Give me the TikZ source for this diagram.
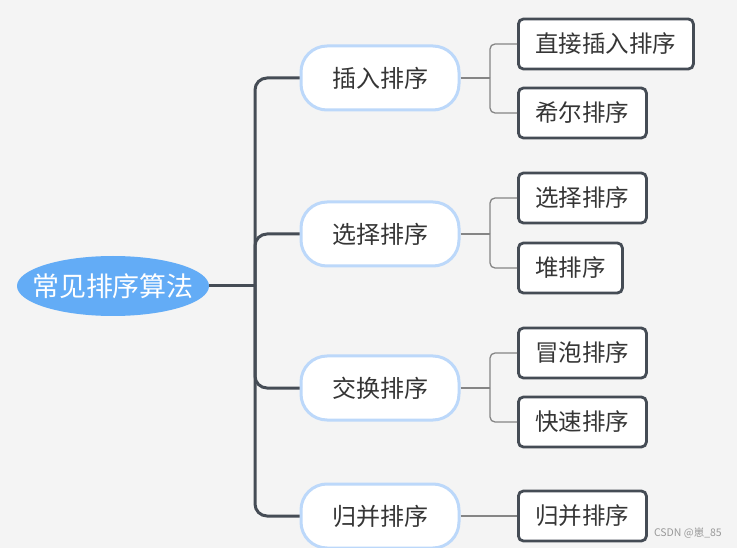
\documentclass[tikz,border=0pt]{standalone}
\usepackage{fontspec}
\newfontfamily\cjk{Noto Sans CJK SC}
\definecolor{bgc}{HTML}{F4F4F4}
\definecolor{rootc}{HTML}{63ACF6}
\definecolor{midb}{HTML}{BCD8FA}
\definecolor{dark}{HTML}{454C55}
\definecolor{thin}{HTML}{858585}
\definecolor{txt}{HTML}{353535}
\tikzset{
  rootnode/.style={rectangle, minimum width=192pt, minimum height=60pt, inner sep=0pt, text=white, font=\cjk\fontsize{27}{31}\selectfont},
  midnode/.style={rectangle, rounded corners=26pt, draw=midb, line width=3pt, fill=white, minimum width=158pt, minimum height=64pt, inner sep=0pt, text=txt, font=\cjk\fontsize{24}{28}\selectfont},
  leafnode/.style={rectangle, rounded corners=5pt, draw=dark, line width=2.8pt, fill=white, minimum height=50pt, inner sep=0pt, anchor=west, text=txt, font=\cjk\fontsize{23.5}{27}\selectfont},
  trunk/.style={draw=dark, line width=3pt, rounded corners=12pt},
  twig/.style={draw=thin, line width=1.3pt, rounded corners=5pt},
}
\begin{document}
\begin{tikzpicture}[x=1pt,y=1pt]
\fill[bgc] (0,0) rectangle (737,-548);
\useasboundingbox (0,0) rectangle (737,-548);

\fill[rootc] (113,-286) ellipse (96 and 30);
\node[rootnode] (root) at (113,-286) {常见排序算法};
\coordinate (j) at (255,-286);

\node[midnode] (m1) at (380,-78) {插入排序};
\node[midnode] (m2) at (380,-234) {选择排序};
\node[midnode] (m3) at (380,-388) {交换排序};
\node[midnode] (m4) at (380,-516) {归并排序};

\draw[trunk] (root.east) -- (j);
\draw[trunk] (j) |- (m1.west);
\draw[trunk] (j) |- (m2.west);
\draw[trunk] (j) |- (m3.west);
\draw[trunk] (j) |- (m4.west);

\node[leafnode, minimum width=175pt] (l1) at (517,-44) {直接插入排序};
\node[leafnode, minimum width=128pt] (l2) at (517,-113) {希尔排序};
\node[leafnode, minimum width=128pt] (l3) at (517,-198) {选择排序};
\node[leafnode, minimum width=104pt] (l4) at (517,-268) {堆排序};
\node[leafnode, minimum width=128pt] (l5) at (517,-353) {冒泡排序};
\node[leafnode, minimum width=128pt] (l6) at (517,-422) {快速排序};
\node[leafnode, minimum width=128pt] (l7) at (517,-516) {归并排序};

\coordinate (k1) at (490,-78);
\coordinate (k2) at (490,-234);
\coordinate (k3) at (490,-388);

\draw[twig] (m1.east) -- (k1);
\draw[twig] (k1) |- (l1.west);
\draw[twig] (k1) |- (l2.west);
\draw[twig] (m2.east) -- (k2);
\draw[twig] (k2) |- (l3.west);
\draw[twig] (k2) |- (l4.west);
\draw[twig] (m3.east) -- (k3);
\draw[twig] (k3) |- (l5.west);
\draw[twig] (k3) |- (l6.west);
\draw[twig] (m4.east) -- (l7.west);

\node[anchor=east, inner sep=0pt, text=gray!80, font=\cjk\fontsize{10.5}{12}\selectfont] (wm) at (722,-533) {CSDN @崽\_85};
\end{tikzpicture}
\end{document}
